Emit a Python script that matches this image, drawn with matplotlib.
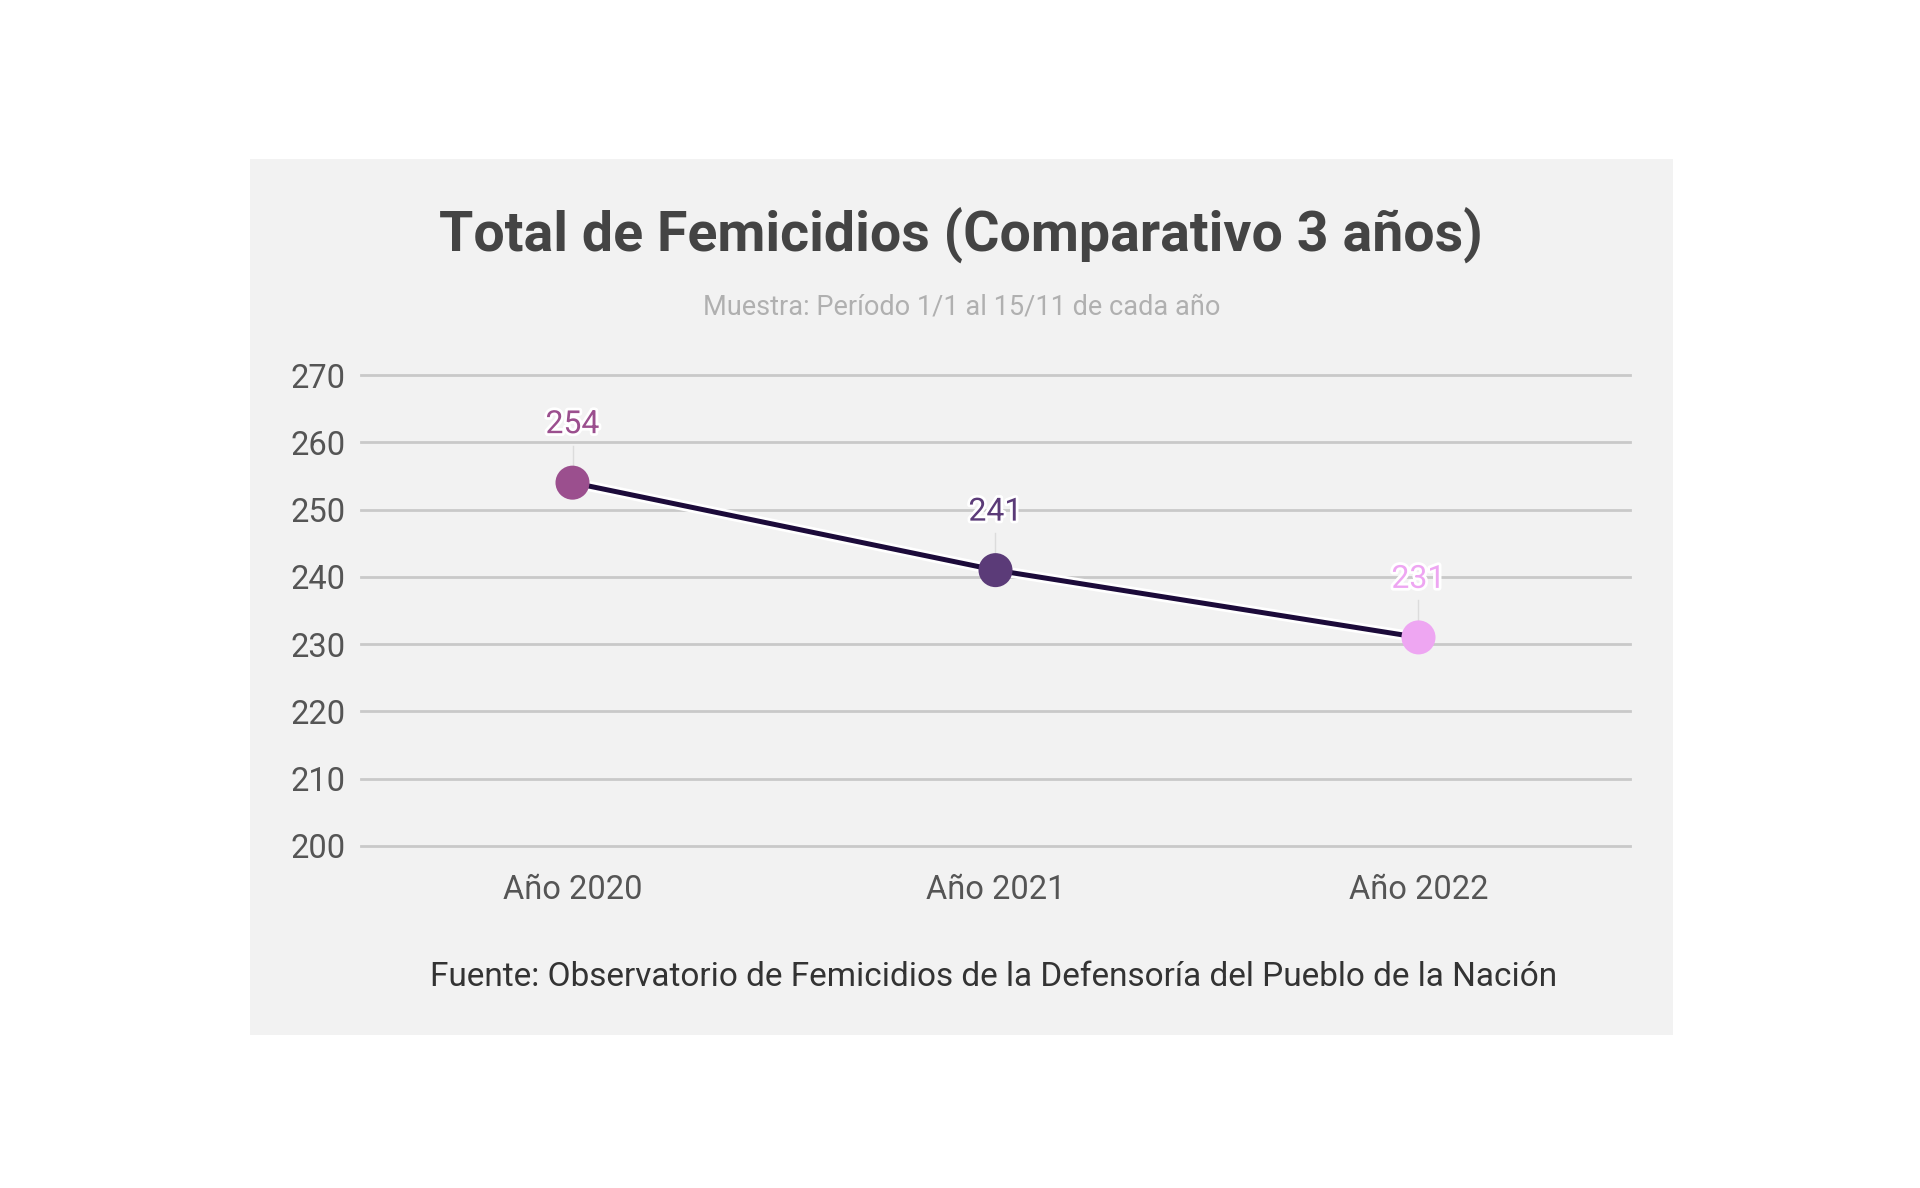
import matplotlib.pyplot as plt
import matplotlib.patheffects as pe
from matplotlib.patches import Rectangle

plt.rcParams["font.family"] = ["Roboto", "DejaVu Sans"]

years = ["Año 2020", "Año 2021", "Año 2022"]
totals = [254, 241, 231]
point_colors = ["#9b4f8e", "#5b3b78", "#eea6f2"]
y_ticks = [200, 210, 220, 230, 240, 250, 260, 270]

title = "Total de Femicidios (Comparativo 3 años)"
subtitle = "Muestra: Período 1/1 al 15/11 de cada año"
source = "Fuente: Observatorio de Femicidios de la Defensoría del Pueblo de la Nación"

W, H = 1920, 1188
fig = plt.figure(figsize=(W / 100, H / 100), dpi=100)
fig.patch.set_facecolor("white")

# gray card behind everything
fig.patches.append(Rectangle((250 / W, 1 - 1035 / H), (1673 - 250) / W, (1035 - 159) / H,
                             transform=fig.transFigure, facecolor="#f2f2f2",
                             edgecolor="none", zorder=-5))

ax = fig.add_axes([361 / W, 1 - 846 / H, (1630 - 361) / W, (846 - 375) / H])
ax.set_facecolor("none")
x = list(range(len(years)))

ax.plot(x, totals, color="#1c0b3a", lw=3.6, zorder=3,
        path_effects=[pe.Stroke(linewidth=7.5, foreground="white"), pe.Normal()])
for xi, v, c in zip(x, totals, point_colors):
    ax.plot([xi, xi], [v, v + 5.5], color="#dcdcdc", lw=1, zorder=2)
    ax.scatter([xi], [v], s=600, color=c, zorder=4, edgecolors="none")
    ax.annotate(str(v), (xi, v), xytext=(0, 58), textcoords="offset pixels",
                ha="center", va="center", fontsize=23, color=c, zorder=5,
                path_effects=[pe.withStroke(linewidth=4, foreground="white")])

ax.set_xlim(-0.5, 2.5)
ax.set_ylim(200, 270)
ax.set_yticks(y_ticks)
ax.set_xticks(x)
ax.set_xticklabels(years)
for g in y_ticks:
    ax.axhline(g, color="#c9c9c9", lw=2, zorder=1, clip_on=False)
for s in ax.spines.values():
    s.set_visible(False)
ax.tick_params(length=0, colors="#555555")
ax.tick_params(axis="y", labelsize=23.5, pad=11)
ax.tick_params(axis="x", labelsize=23.5, pad=20)

fig.text(961 / W, 1 - 235 / H, title, ha="center", va="center", fontsize=40,
         fontweight="bold", color="#444444")
fig.text(962 / W, 1 - 307 / H, subtitle, ha="center", va="center", fontsize=19.5,
         color="#b0b0b0")
fig.text(994 / W, 1 - 977 / H, source, ha="center", va="center", fontsize=24,
         color="#333333")

fig.savefig("out.png", dpi=100)
